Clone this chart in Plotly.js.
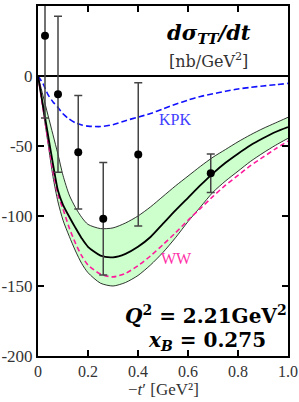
<!DOCTYPE html>
<html>
<head>
<meta charset="utf-8">
<script src="https://cdn.plot.ly/plotly-3.0.1.min.js"></script>
<style>html,body{margin:0;padding:0;background:#fff;}#chart{width:299px;height:402px;}</style>
</head>
<body>
<div id="chart"></div>
<script>
// -t' grid for theory curves [GeV^2]
var tGrid = [0, 0.02, 0.04, 0.06, 0.08, 0.1, 0.125, 0.15, 0.175, 0.2, 0.25, 0.3, 0.35, 0.4, 0.45, 0.5, 0.55, 0.6, 0.65, 0.7, 0.75, 0.8, 0.85, 0.9, 0.95, 1.0];
// central theory curve
var sigCentral = [0, -21, -42, -63, -82, -92, -100.5, -108.5, -116, -122, -128.3, -129.5, -127, -122, -115, -105.5, -96, -87, -78, -69.5, -62, -55.5, -49.5, -44.5, -40, -36.5];
// uncertainty band, upper edge
var sigUpper = [0, -14, -28, -42, -56, -71, -85, -94, -101, -106, -109, -108.5, -105, -100, -93.5, -86, -78.5, -71.5, -64.5, -58, -52.5, -47, -42, -37.5, -33.5, -29.5];
// uncertainty band, lower edge
var sigLower = [0, -24, -48, -72, -90, -103, -114.5, -125, -134, -140.5, -148, -150, -147.5, -142.5, -135, -126, -115.5, -104, -93.5, -83, -75, -68, -61, -55, -49.5, -44.5];
// WW curve
var sigWW = [0, -23, -46, -68, -85, -95, -108.5, -119.5, -128.5, -135, -141.5, -143.5, -141, -135.5, -128.5, -120.5, -112, -103, -94.5, -86, -78, -71, -64, -58, -52, -46.5];
// KPK curve
var sigKPK = [0, -5.5, -13.3, -18.5, -22.5, -27, -30.8, -33.5, -35, -35.8, -36.1, -34.8, -31.9, -29.4, -26.8, -23.5, -20.2, -17.2, -14.6, -12.7, -10.9, -9.3, -8.1, -7.1, -6.2, -5.3];
// data points
var tData = [0.028, 0.08, 0.161, 0.261, 0.401, 0.691];
var sigData = [28.8, -13, -54.5, -102, -56, -69.5];
var errData = [58.8, 55.7, 40.5, 40.2, 51.2, 13.7];
// ticks
var xTickVals = [0, 0.2, 0.4, 0.6, 0.8, 1.0];
var xTickText = ['0', '0.2', '0.4', '0.6', '0.8', '1.0'];
var yTickVals = [-200, -150, -100, -50, 0, 50];
var yTickText = ['-200', '-150', '-100', '-50', '0', '50'];

var serif = 'Liberation Serif, serif';
var bserif = 'DejaVu Serif, serif';
var sm = 0.7;

var traces = [
  {x: tGrid, y: sigUpper, type: 'scatter', mode: 'lines', line: {color: '#000', width: 0.8, shape: 'spline', smoothing: sm}, hoverinfo: 'skip'},
  {x: tGrid, y: sigLower, type: 'scatter', mode: 'lines', fill: 'tonexty', fillcolor: '#ccffcc', line: {color: '#000', width: 0.8, shape: 'spline', smoothing: sm}, hoverinfo: 'skip'},
  {x: tGrid, y: sigWW, type: 'scatter', mode: 'lines', line: {color: '#ff1a9c', width: 1.6, dash: '5px,3px', shape: 'spline', smoothing: sm}},
  {x: tGrid, y: sigKPK, type: 'scatter', mode: 'lines', line: {color: '#1010ff', width: 1.6, dash: '6px,3px', shape: 'spline', smoothing: sm}},
  {x: tGrid, y: sigCentral, type: 'scatter', mode: 'lines', line: {color: '#000', width: 1.8, shape: 'spline', smoothing: sm}},
  {x: tData, y: sigData, type: 'scatter', mode: 'markers', marker: {color: '#000', size: 8},
   error_y: {type: 'data', array: errData, visible: true, color: '#444', thickness: 1.5, width: 4}}
];

var layout = {
  width: 299, height: 402,
  margin: {l: 38, r: 11, t: 6, b: 46},
  paper_bgcolor: '#fff', plot_bgcolor: '#fff',
  showlegend: false,
  xaxis: {
    range: [0, 1], tickvals: xTickVals, ticktext: xTickText,
    ticks: 'inside', ticklen: 6, tickwidth: 1.2, tickcolor: '#000',
    showline: true, linecolor: '#000', linewidth: 2, mirror: 'ticks',
    showgrid: false, zeroline: false,
    tickfont: {family: serif, size: 16, color: '#333'}
  },
  yaxis: {
    range: [-200, 50], tickvals: yTickVals, ticktext: yTickText,
    ticks: 'inside', ticklen: 6, tickwidth: 1.2, tickcolor: '#000',
    showline: true, linecolor: '#000', linewidth: 2, mirror: 'ticks',
    showgrid: false, zeroline: true, zerolinecolor: '#000', zerolinewidth: 1.5,
    tickfont: {family: serif, size: 17, color: '#333'}
  },
  annotations: [
    {x: 0.5, y: -0.128, xref: 'paper', yref: 'paper', showarrow: false, xanchor: 'center', yanchor: 'bottom',
     text: '\u2212<i>t</i>\u2032 [GeV\u00b2]', font: {family: serif, size: 17, color: '#333'}},
    {x: 0.684, y: 30.7, xref: 'x', yref: 'y', showarrow: false, xanchor: 'center', yanchor: 'middle',
     text: '<b><i>d\u03c3<sub>TT</sub>/dt</i></b>', font: {family: bserif, size: 21, color: '#000'}},
    {x: 0.68, y: 11.4, xref: 'x', yref: 'y', showarrow: false, xanchor: 'center', yanchor: 'middle',
     text: '[nb/GeV<sup>2</sup>]', font: {family: bserif, size: 16, color: '#333'}},
    {x: 0.548, y: -31.4, xref: 'x', yref: 'y', showarrow: false, xanchor: 'center', yanchor: 'middle',
     text: 'KPK', font: {family: serif, size: 16, color: '#4040ff'}},
    {x: 0.552, y: -130.7, xref: 'x', yref: 'y', showarrow: false, xanchor: 'center', yanchor: 'middle',
     text: 'WW', font: {family: serif, size: 16, color: '#ff30a8'}},
    {x: 0.67, y: -170.7, xref: 'x', yref: 'y', showarrow: false, xanchor: 'center', yanchor: 'middle',
     text: '<b><i>Q</i><sup>2</sup> = 2.21GeV<sup>2</sup></b>', font: {family: bserif, size: 20, color: '#000'}},
    {x: 0.676, y: -189.3, xref: 'x', yref: 'y', showarrow: false, xanchor: 'center', yanchor: 'middle',
     text: '<b><i>x<sub>B</sub></i> = 0.275</b>', font: {family: bserif, size: 20, color: '#000'}}
  ]
};

Plotly.newPlot('chart', traces, layout, {staticPlot: true, displayModeBar: false});
</script>
</body>
</html>
